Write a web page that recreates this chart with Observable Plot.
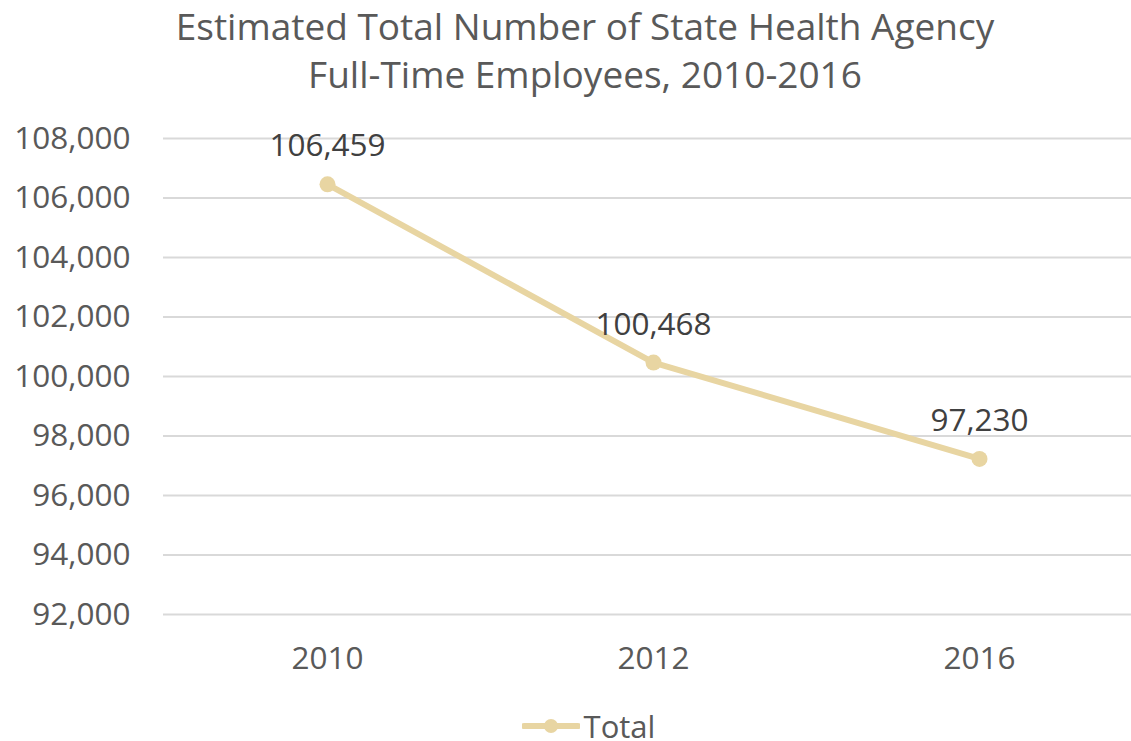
<!DOCTYPE html>
<html>
<head>
<meta charset="utf-8">
<script src="https://cdn.jsdelivr.net/npm/d3@7"></script>
<script src="https://cdn.jsdelivr.net/npm/@observablehq/plot@0.6"></script>
<style>
  html, body { margin: 0; padding: 0; background: #fff; }
  body { width: 1131px; height: 741px; position: relative; font-family: "Open Sans", sans-serif; }
  #title { position: absolute; left: 39px; width: 1092px; top: 0; text-align: center; color: #595959; font-size: 37px; line-height: 48px; padding-top: 2px; }
  #chart { position: absolute; left: 0; top: 100px; }
  #legend { position: absolute; left: 0; top: 706px; width: 1131px; height: 40px; display: flex; justify-content: center; align-items: center; color: #595959; font-size: 31px; line-height: 40px; padding-left: 46px; box-sizing: border-box; }
  #legend svg { margin-right: 4px; }
</style>
</head>
<body>
<div id="title">Estimated Total Number of State Health Agency<br>Full-Time Employees, 2010-2016</div>
<div id="chart"></div>
<div id="legend"></div>
<script>
const years = ["2010", "2012", "2016"];
const totals = [106459, 100468, 97230];
const yTicks = [92000, 94000, 96000, 98000, 100000, 102000, 104000, 106000, 108000];
const seriesName = "Total";
const lineColor = "#e8d5a2";

const data = years.map((year, i) => ({year, value: totals[i]}));
const fmt = d3.format(",");

const chart = Plot.plot({
  width: 1131,
  height: 600,
  marginLeft: 163,
  marginRight: 0,
  marginTop: 38,
  marginBottom: 86,
  style: {fontFamily: "Open Sans, sans-serif", fontSize: "31.5px", color: "#595959", background: "transparent"},
  x: {type: "point", domain: years, range: [163, 1143], padding: 0.5, label: null},
  y: {domain: [92000, 108000], ticks: yTicks, label: null},
  marks: [
    Plot.ruleY(yTicks, {stroke: "#d9d9d9", strokeWidth: 2}),
    Plot.axisY({ticks: yTicks, tickSize: 0, tickPadding: 33, tickFormat: fmt, label: null, fill: "#595959"}),
    Plot.axisX({tickSize: 0, tickPadding: 32, label: null, fill: "#595959"}),
    Plot.line(data, {x: "year", y: "value", stroke: lineColor, strokeWidth: 6}),
    Plot.dot(data, {x: "year", y: "value", r: 8, fill: lineColor, stroke: "none"}),
    Plot.text(data, {x: "year", y: "value", text: d => fmt(d.value), dy: -38, fill: "#404040", fontSize: 31.5, textAnchor: "middle"})
  ]
});
document.getElementById("chart").appendChild(chart);

const legend = document.getElementById("legend");
const ls = d3.create("svg").attr("width", 58).attr("height", 20);
ls.append("line").attr("x1", 2).attr("x2", 56).attr("y1", 10).attr("y2", 10).attr("stroke", lineColor).attr("stroke-width", 6).attr("stroke-linecap", "round");
ls.append("circle").attr("cx", 29).attr("cy", 10).attr("r", 7).attr("fill", lineColor);
legend.appendChild(ls.node());
const lt = document.createElement("span");
lt.textContent = seriesName;
legend.appendChild(lt);
</script>
</body>
</html>
